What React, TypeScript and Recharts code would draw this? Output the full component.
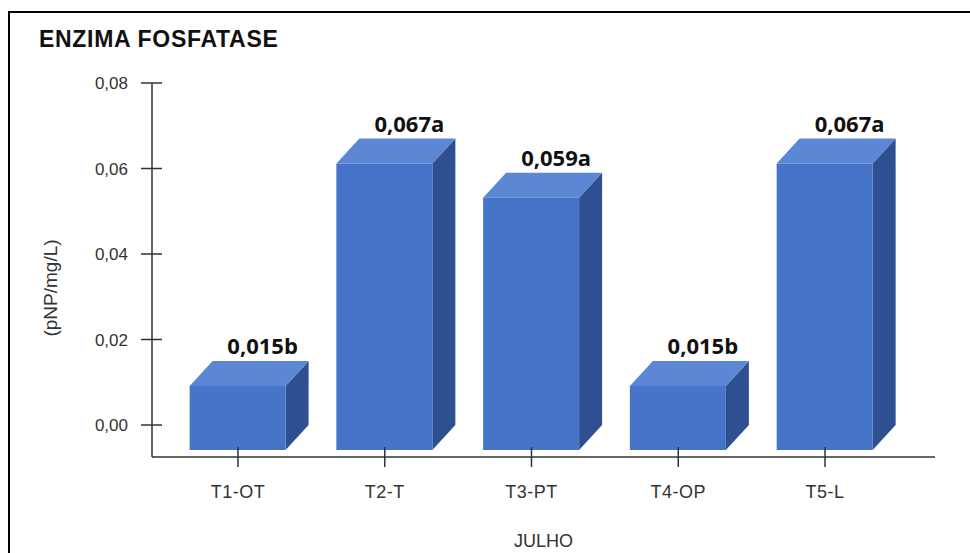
import { Bar, BarChart, LabelList, Label, XAxis, YAxis } from "recharts";

const categories = ["T1-OT", "T2-T", "T3-PT", "T4-OP", "T5-L"];
const values = [0.015, 0.067, 0.059, 0.015, 0.067];
const letters = ["b", "a", "a", "b", "a"];
const yTicks = [0, 0.02, 0.04, 0.06, 0.08];

const data = categories.map((name, i) => ({
  name,
  value: values[i],
  letter: letters[i],
}));

// 3D box offsets
const DX = 23;
const DY = 25;
const FONT = "'Liberation Sans', Arial, sans-serif";

const Box3D = (props: any) => {
  const { x, y, width, height } = props;
  const base = y + height;
  const fx = x;
  const fr = x + width;
  return (
    <g>
      <polygon
        points={`${fr},${y + DY} ${fr + DX},${y} ${fr + DX},${base} ${fr},${base + DY}`}
        fill="#2e5090"
      />
      <polygon
        points={`${fx},${y + DY} ${fx + DX},${y} ${fr + DX},${y} ${fr},${y + DY}`}
        fill="#5b87d5"
      />
      <rect x={fx} y={y + DY} width={width} height={height} fill="#4574c8" />
    </g>
  );
};

const ValueLabel = (props: any) => {
  const { x, y, width, index } = props;
  const v = values[index];
  return (
    <text
      x={x + width / 2 + DX + 2}
      y={y - 7}
      textAnchor="middle"
      fontFamily="'Open Sans', 'Noto Sans', sans-serif"
      fontWeight={700}
      fontSize={22}
      fill="#111"
    >
      {v.toFixed(3).replace(".", ",") + letters[index]}
    </text>
  );
};

const YTick = ({ x, y, payload }: any) => (
  <g>
    <line x1={x - 11} x2={x + 10} y1={y} y2={y} stroke="#333" strokeWidth={1.5} />
    <text
      x={x - 24}
      y={y + 6}
      textAnchor="end"
      fontFamily={FONT}
      fontSize={17}
      fill="#333"
    >
      {Number(payload.value).toFixed(2).replace(".", ",")}
    </text>
  </g>
);

const XTick = ({ x, y, payload }: any) => (
  <g>
    <line x1={x} x2={x} y1={y - 10} y2={y + 10} stroke="#333" strokeWidth={1.5} />
    <text
      x={x}
      y={y + 41}
      textAnchor="middle"
      fontFamily={FONT}
      fontSize={18}
      letterSpacing={0.5}
      fill="#333"
    >
      {payload.value}
    </text>
  </g>
);

export default function App() {
  return (
    <div
      style={{
        position: "relative",
        width: 970,
        height: 553,
        overflow: "hidden",
        background: "#fff",
      }}
    >
      <style>{"body{margin:0}"}</style>
      <div
        style={{
          position: "absolute",
          left: 8,
          top: 11,
          width: 2000,
          height: 2000,
          borderTop: "2px solid #000",
          borderLeft: "2px solid #000",
        }}
      />
      <div
        style={{
          position: "absolute",
          left: 39,
          top: 25,
          fontFamily: FONT,
          fontWeight: 700,
          fontSize: 23,
          letterSpacing: 0.7,
          color: "#111",
          lineHeight: "28px",
        }}
      >
        ENZIMA FOSFATASE
      </div>
      <div style={{ position: "absolute", left: 0, top: 0 }}>
        <BarChart
          width={970}
          height={553}
          data={data}
          margin={{ top: 83, right: 35, bottom: 0, left: 52 }}
        >
          <XAxis
            dataKey="name"
            height={96}
            padding={{ left: 12.6, right: 36.6 }}
            axisLine={{ stroke: "#333", strokeWidth: 1.5 }}
            tickLine={false}
            tickSize={0}
            tickMargin={0}
            interval={0}
            tick={<XTick />}
          >
            <Label
              content={({ viewBox }: any) => (
                <text
                  x={viewBox.x + viewBox.width / 2}
                  y={viewBox.y + 90}
                  textAnchor="middle"
                  fontFamily={FONT}
                  fontSize={18}
                  fill="#333"
                >
                  JULHO
                </text>
              )}
            />
          </XAxis>
          <YAxis
            width={100}
            domain={[0, 0.08]}
            ticks={yTicks}
            padding={{ bottom: 32 }}
            axisLine={{ stroke: "#333", strokeWidth: 1.5 }}
            tickLine={false}
            tickSize={0}
            tickMargin={0}
            tick={<YTick />}
          >
            <Label
              content={({ viewBox }: any) => (
                <text
                  x={50}
                  y={viewBox.y + viewBox.height / 2 + 18}
                  textAnchor="middle"
                  dominantBaseline="central"
                  transform={`rotate(-90, 50, ${viewBox.y + viewBox.height / 2 + 18})`}
                  fontFamily={FONT}
                  fontSize={19}
                  fill="#333"
                >
                  (pNP/mg/L)
                </text>
              )}
            />
          </YAxis>
          <Bar
            dataKey="value"
            barSize={96}
            shape={<Box3D />}
            isAnimationActive={false}
          >
            <LabelList dataKey="value" content={<ValueLabel />} />
          </Bar>
        </BarChart>
      </div>
    </div>
  );
}
